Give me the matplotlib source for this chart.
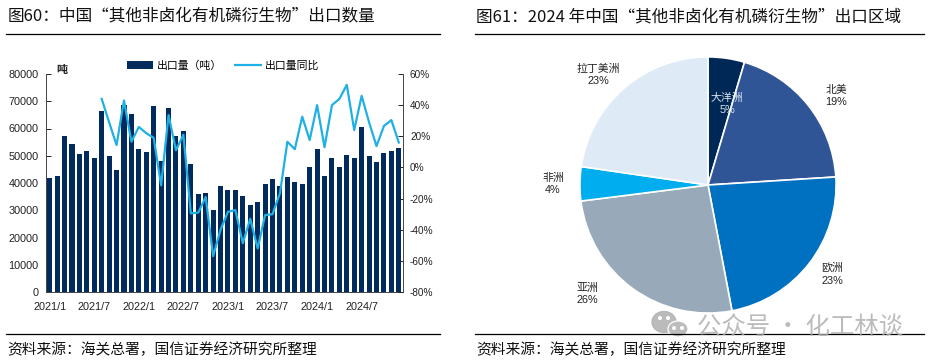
# Two panel figure: export volume (bars + yoy line) and export regions (pie)
import matplotlib
matplotlib.use('Agg')
import numpy as np
import matplotlib.pyplot as plt
from matplotlib.lines import Line2D
from matplotlib.patches import Ellipse

W, H = 932, 364

months = ['2021/1', '2021/2', '2021/3', '2021/4', '2021/5', '2021/6', '2021/7', '2021/8', '2021/9', '2021/10', '2021/11', '2021/12',
          '2022/1', '2022/2', '2022/3', '2022/4', '2022/5', '2022/6', '2022/7', '2022/8', '2022/9', '2022/10', '2022/11', '2022/12',
          '2023/1', '2023/2', '2023/3', '2023/4', '2023/5', '2023/6', '2023/7', '2023/8', '2023/9', '2023/10', '2023/11', '2023/12',
          '2024/1', '2024/2', '2024/3', '2024/4', '2024/5', '2024/6', '2024/7', '2024/8', '2024/9', '2024/10', '2024/11', '2024/12']
volume = [41800, 42500, 57300, 54200, 50700, 51600, 49000, 66400, 50000, 44600, 68700, 65200,
          52600, 51400, 68200, 48200, 67400, 57200, 59200, 47000, 36000, 36200, 30000, 38800,
          37300, 37300, 35200, 31900, 33000, 39600, 41400, 38900, 42100, 40200, 39600, 45800,
          52500, 42600, 49300, 46000, 50300, 49200, 60400, 49900, 47700, 51000, 51600, 53000]
yoy = [None, None, None, None, None, None, None, 44, 29, 14.4, 43, 16.5,
       26, 22, 19, -11.5, 33.6, 11, 21, -29.5, -29, -19, -57, -40,
       -28.5, -27.4, -48.7, -33, -52, -30.6, -30, -16.6, 16.5, 11.7, 32.6, 17.6,
       40, 13, 40, 44, 53, 24, 46, 29, 13.7, 26.6, 30.4, 16]
left_ticks = [0, 10000, 20000, 30000, 40000, 50000, 60000, 70000, 80000]
right_ticks = [-80, -60, -40, -20, 0, 20, 40, 60]

regions = ['大洋洲', '北美', '欧洲', '亚洲', '非洲', '拉丁美洲']
shares = [4.6, 19.4, 23.0, 26.0, 4.3, 22.7]
share_labels = ['5%', '19%', '23%', '26%', '4%', '23%']
pie_colors = ['#002856', '#2f5597', '#0070c0', '#98a9ba', '#00aeef', '#deeaf6']

title_left = '图60：中国“其他非卤化有机磷衍生物”出口数量'
title_right = '图61：2024 年中国“其他非卤化有机磷衍生物”出口区域'
source = '资料来源：海关总署，国信证券经济研究所整理'

plt.rcParams['font.family'] = ['Liberation Sans', 'Noto Sans CJK SC']
cjk = ['Noto Sans CJK SC', 'DejaVu Sans']

def box(x0, y0, x1, y1):  # pixel box, y measured from the top
    return [x0 / W, 1 - y1 / H, (x1 - x0) / W, (y1 - y0) / H]

def fx(x):
    return x / W

def fy(y):
    return 1 - y / H

fig = plt.figure(figsize=(W / 100, H / 100), dpi=100)

# --- headers and footers
fig.text(fx(8), fy(17), title_left, fontsize=12.0, color='#111111', va='center', family=cjk)
fig.text(fx(476), fy(17), title_right, fontsize=11.95, color='#111111', va='center', family=cjk)
for x0, x1 in [(6, 440), (475, 924)]:
    fig.add_artist(Line2D([fx(x0), fx(x1)], [fy(33.5), fy(33.5)], color='black', lw=0.9))
    fig.add_artist(Line2D([fx(x0), fx(x1)], [fy(333.5), fy(333.5)], color='black', lw=0.9))
fig.text(fx(7), fy(350), source, fontsize=10.65, color='#111111', va='center', family=cjk)
fig.text(fx(476), fy(350), source, fontsize=10.65, color='#111111', va='center', family=cjk)

# --- left panel
ax = fig.add_axes(box(46, 74, 402.5, 292))
x = np.arange(len(months))
ax.bar(x, volume, width=0.68, color='#002b5c', label='出口量（吨）', zorder=2)
ax.set_xlim(-0.5, len(months) - 0.5)
ax.set_ylim(0, 80000)
ax.set_yticks(left_ticks)
ax.set_xticks(x[::6])
ax.set_xticklabels(months[::6])
ax.tick_params(axis='y', labelsize=7.8, length=3.5, width=0.7, pad=5.5, direction='in', colors='#222222')
ax.tick_params(axis='x', labelsize=7.8, length=2, width=0.6, direction='in', pad=7.5, colors='#222222')
ax.spines['top'].set_visible(False)
ax.spines['right'].set_visible(False)
for s in ['left', 'bottom']:
    ax.spines[s].set_linewidth(0.7)
    ax.spines[s].set_color('#444444')

ax2 = ax.twinx()
ax2.plot(x, np.array(yoy, dtype=float), color='#1fb0e6', lw=1.6, label='出口量同比', zorder=3)
ax2.set_ylim(-80, 60)
ax2.set_yticks(right_ticks)
ax2.set_yticklabels(['%d%%' % t for t in right_ticks])
ax2.tick_params(axis='y', labelsize=7.2, length=3.5, width=0.7, pad=5.4, direction='in', colors='#222222')
ax2.spines['top'].set_visible(False)
ax2.spines['left'].set_visible(False)
ax2.spines['bottom'].set_visible(False)
ax2.spines['right'].set_linewidth(0.7)
ax2.spines['right'].set_color('#444444')

fig.text(fx(56), fy(69.5), '吨', fontsize=8, weight='bold', color='#222222', va='center')
h1, l1 = ax.get_legend_handles_labels()
h2, l2 = ax2.get_legend_handles_labels()
fig.legend(h1 + h2, l1 + l2, loc='center', bbox_to_anchor=(fx(223.5), fy(66)), ncol=2, frameon=False,
           fontsize=7.8, handlelength=2.4, handleheight=0.75, columnspacing=1.2, handletextpad=0.35,
           borderpad=0, borderaxespad=0)

# --- right panel
pie_ax = fig.add_axes(box(578, 55, 838, 315))
pie_ax.pie(shares, colors=pie_colors, startangle=90, counterclock=False, radius=1,
           wedgeprops={'edgecolor': 'white', 'linewidth': 1.2})
pie_ax.set_xlim(-1.015, 1.015)
pie_ax.set_ylim(-1.015, 1.015)

label_xy = [(727, 104), (836, 96), (832, 274), (587, 294), (553, 184), (598, 75)]
label_col = ['#dfe6ef', '#222222', '#222222', '#222222', '#222222', '#222222']
for name, pct, (lx, ly), col in zip(regions, share_labels, label_xy, label_col):
    fig.text(fx(lx), fy(ly), name + '\n' + pct, fontsize=7.8, color=col, ha='center', va='center', linespacing=1.35)

# --- watermark
fig.text(fx(697), fy(327), '公众号 · 化工林谈', fontsize=17.6, color='#b0b0b0', alpha=0.85, va='center', family=cjk)
wm = fig.add_axes([0, 0, 1, 1], facecolor='none')
wm.set_xlim(0, W)
wm.set_ylim(H, 0)
wm.axis('off')
wm.add_patch(Ellipse((664, 322), 24, 21, color='#b4b4b4', alpha=0.9))
wm.add_patch(Ellipse((678, 329), 20, 16, fc='#bcbcbc', ec='white', lw=0.9))
for ex, ey in [(660, 318), (668, 318), (674, 328), (682, 328)]:
    wm.add_patch(Ellipse((ex, ey), 2.6, 2.6, color='white'))

fig.savefig('out.png', dpi=100)
